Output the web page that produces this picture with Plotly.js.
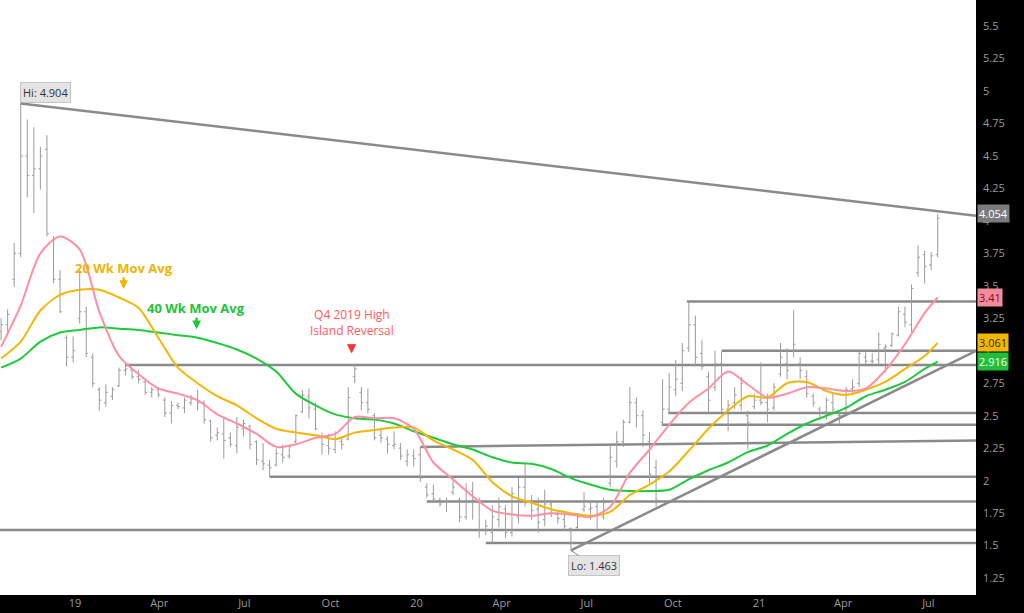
<!DOCTYPE html>
<html>
<head>
<meta charset="utf-8">
<script src="https://cdn.plot.ly/plotly-3.0.1.min.js"></script>
<style>
html,body{margin:0;padding:0;background:#000;}
#chart{width:1024px;height:613px;}
</style>
</head>
<body>
<div id="chart"></div>
<script>
// Weekly bars, first week starting 2018-10-14
const firstWeekUTC = Date.UTC(2018, 9, 14);

const openP = [
3.15,3.20,3.55,3.75,4.50,4.35,4.40,4.55,3.85,3.55,
3.10,2.95,3.25,3.30,2.95,2.70,2.60,2.65,2.73,2.85,
2.85,2.80,2.76,2.68,2.70,2.62,2.52,2.58,2.56,2.60,
2.62,2.60,2.46,2.35,2.36,2.33,2.27,2.40,2.42,2.30,
2.15,2.12,2.12,2.20,2.19,2.30,2.53,2.65,2.55,2.33,
2.27,2.24,2.30,2.32,2.80,2.68,2.60,2.50,2.35,2.32,
2.27,2.25,2.15,2.19,2.20,1.95,1.90,1.85,1.84,1.91,
1.85,1.72,1.92,1.83,1.62,1.60,1.70,1.78,1.60,1.72,
1.95,1.84,1.78,1.70,1.82,1.74,1.70,1.63,1.64,1.78,
1.78,1.80,1.72,1.98,2.15,2.30,2.45,2.60,2.50,2.30,
2.10,2.45,2.55,2.70,2.75,3.02,3.20,2.98,2.80,2.72,
2.90,2.55,2.60,2.58,2.50,2.57,2.62,2.60,2.56,2.82,
2.90,3.00,2.90,2.80,2.65,2.55,2.53,2.60,2.50,2.56,
2.71,2.75,2.95,2.92,2.93,3.02,3.04,3.12,3.28,3.20,
3.60,3.74,3.66,3.74];
const highP = [
3.25,3.32,3.83,4.904,4.78,4.72,4.57,4.66,3.88,3.62,
3.12,3.11,3.62,3.34,2.98,2.72,2.74,2.72,2.87,2.91,
2.87,2.85,2.78,2.72,2.72,2.64,2.61,2.60,2.64,2.66,
2.70,2.62,2.47,2.41,2.49,2.37,2.49,2.47,2.43,2.31,
2.29,2.16,2.25,2.28,2.27,2.51,2.70,2.71,2.60,2.37,
2.36,2.38,2.34,2.72,2.90,2.72,2.71,2.52,2.41,2.34,
2.38,2.29,2.24,2.24,2.26,1.98,1.97,1.87,1.87,2.02,
1.87,1.98,1.99,1.87,1.70,1.81,1.87,1.81,1.95,2.02,
2.14,1.89,1.87,1.93,1.85,1.77,1.75,1.64,1.75,1.91,
1.83,1.83,1.87,2.28,2.38,2.47,2.72,2.64,2.54,2.37,
2.16,2.78,2.83,2.93,3.06,3.37,3.27,3.08,2.84,3.00,
2.99,2.62,2.72,2.80,2.54,2.67,2.91,2.67,2.75,3.06,
3.02,3.31,2.95,2.85,2.67,2.57,2.64,2.67,2.54,2.72,
2.78,3.01,2.99,2.98,3.14,3.05,3.14,3.34,3.34,3.51,
3.81,3.77,3.76,4.054];
const lowP = [
3.08,3.14,3.49,3.72,4.18,4.06,4.24,3.88,3.52,3.29,
2.88,2.91,3.21,2.95,2.72,2.54,2.57,2.62,2.72,2.81,
2.78,2.75,2.66,2.64,2.64,2.49,2.44,2.55,2.52,2.58,
2.54,2.44,2.30,2.31,2.17,2.26,2.21,2.34,2.24,2.12,
2.08,2.03,2.11,2.14,2.17,2.29,2.52,2.48,2.39,2.20,
2.20,2.21,2.24,2.31,2.75,2.54,2.52,2.31,2.29,2.21,
2.24,2.16,2.11,2.11,1.99,1.87,1.83,1.80,1.76,1.89,
1.68,1.70,1.70,1.56,1.58,1.52,1.64,1.56,1.57,1.67,
1.80,1.70,1.60,1.65,1.72,1.67,1.62,1.463,1.62,1.76,
1.70,1.61,1.70,1.95,2.10,2.26,2.44,2.41,2.26,1.98,
1.80,2.42,2.52,2.65,2.69,2.99,2.88,2.85,2.52,2.69,
2.52,2.38,2.55,2.54,2.24,2.55,2.58,2.45,2.54,2.80,
2.78,2.95,2.78,2.64,2.57,2.47,2.47,2.52,2.44,2.52,
2.67,2.72,2.88,2.88,2.88,2.83,3.03,3.11,3.18,3.14,
3.57,3.52,3.62,3.72];
const closeP = [
3.20,3.28,3.75,4.50,4.35,4.40,4.50,3.90,3.55,3.30,
2.95,3.00,3.30,2.98,2.75,2.62,2.68,2.70,2.85,2.86,
2.80,2.78,2.68,2.70,2.66,2.52,2.58,2.57,2.62,2.63,
2.60,2.47,2.33,2.37,2.31,2.28,2.41,2.44,2.28,2.16,
2.13,2.10,2.21,2.18,2.26,2.50,2.66,2.56,2.40,2.28,
2.25,2.32,2.28,2.64,2.86,2.60,2.55,2.33,2.33,2.28,
2.28,2.19,2.20,2.17,2.02,1.89,1.86,1.82,1.84,1.95,
1.72,1.92,1.85,1.62,1.65,1.72,1.80,1.60,1.90,1.95,
1.83,1.77,1.68,1.82,1.75,1.71,1.65,1.52,1.72,1.80,
1.79,1.73,1.83,2.18,2.30,2.45,2.60,2.50,2.35,2.05,
1.85,2.55,2.72,2.78,3.00,3.20,2.95,2.88,2.62,2.90,
2.55,2.58,2.66,2.75,2.45,2.62,2.60,2.55,2.72,2.95,
2.85,3.05,2.85,2.67,2.60,2.52,2.62,2.55,2.50,2.70,
2.72,2.98,2.92,2.92,3.05,3.03,3.13,3.30,3.22,3.48,
3.72,3.65,3.73,4.02];

// Moving averages read every 3 weeks (plus last week)
const ma10 = [3.03,3.35,3.75,3.88,3.78,3.30,2.96,2.82,2.71,2.67,2.62,2.51,2.44,2.36,2.26,2.28,2.33,2.36,2.49,2.48,2.48,2.40,2.14,2.01,1.88,1.77,1.74,1.73,1.75,1.74,1.72,1.80,2.06,2.24,2.43,2.60,2.71,2.84,2.74,2.64,2.67,2.72,2.71,2.69,2.71,2.85,3.05,3.29,3.41];
const ma20 = [2.94,3.07,3.31,3.43,3.47,3.47,3.41,3.33,3.10,2.87,2.75,2.65,2.58,2.48,2.40,2.37,2.35,2.32,2.37,2.39,2.41,2.41,2.31,2.24,2.16,1.99,1.88,1.83,1.78,1.75,1.73,1.76,1.89,1.97,2.07,2.23,2.40,2.54,2.65,2.64,2.75,2.76,2.69,2.66,2.70,2.76,2.86,2.96,3.061];
const ma40 = [2.87,2.94,3.07,3.14,3.16,3.18,3.17,3.16,3.14,3.12,3.10,3.06,3.01,2.94,2.84,2.67,2.58,2.51,2.48,2.47,2.44,2.38,2.33,2.28,2.24,2.18,2.14,2.13,2.09,2.02,1.97,1.93,1.92,1.92,1.93,2.01,2.08,2.14,2.22,2.27,2.36,2.44,2.50,2.56,2.65,2.70,2.76,2.86,2.916];

// Horizontal support / resistance levels
const levelStart = ['2019-02-24','2020-10-16','2020-11-22','2020-09-26','2020-09-19','2019-07-28','2020-01-12','2018-10-12','2020-03-15'];
const levelValue = [2.89,3.38,3.00,2.52,2.43,2.03,1.84,1.62,1.52];
// Sloped lines
const trendX0 = ['2018-11-04','2020-06-14','2020-01-05'];
const trendY0 = [4.904, 1.463, 2.26];
const trendY1 = [4.04, 3.00, 2.31];
const rangeStart = '2018-10-12 20:00';
const rangeEnd = '2021-08-20 22:00';

const yTickVals = [1.25,1.5,1.75,2,2.25,2.5,2.75,3,3.25,3.5,3.75,4,4.25,4.5,4.75,5,5.25,5.5];
const yTickText = ['1.25','1.5','1.75','2','2.25','2.5','2.75','3','3.25','3.5','3.75','4','4.25','4.5','4.75','5','5.25','5.5'];
const xTickVals = ['2019-01-01','2019-04-01','2019-07-01','2019-10-01','2020-01-01','2020-04-01','2020-07-01','2020-10-01','2021-01-01','2021-04-01','2021-07-01'];
const xTickText = ['19','Apr','Jul','Oct','20','Apr','Jul','Oct','21','Apr','Jul'];

const hiValue = 4.904, hiDate = '2018-11-04';
const loValue = 1.463, loDate = '2020-06-14';

const dates = highP.map((_, i) => new Date(firstWeekUTC + i * 7 * 864e5).toISOString().slice(0, 10));
const maDates = ma10.map((_, j) => j < ma10.length - 1 ? dates[3 * j] : dates[dates.length - 1]);

const traces = [
  {type:'ohlc', x:dates, open:openP, high:highP, low:lowP, close:closeP,
   increasing:{line:{color:'#9b9b9b', width:1}}, decreasing:{line:{color:'#9b9b9b', width:1}},
   tickwidth:0.3, hoverinfo:'skip'},
  {type:'scatter', mode:'lines', x:maDates, y:ma40, line:{color:'#1fc93c', width:2, shape:'spline', smoothing:0.8}, hoverinfo:'skip'},
  {type:'scatter', mode:'lines', x:maDates, y:ma20, line:{color:'#f2b705', width:2, shape:'spline', smoothing:0.8}, hoverinfo:'skip'},
  {type:'scatter', mode:'lines', x:maDates, y:ma10, line:{color:'#ff8fa5', width:2, shape:'spline', smoothing:0.8}, hoverinfo:'skip'}
];

const lineStyle = {color:'#8a8a8a', width:2.5};
const shapes = [];
levelValue.forEach((v, i) => shapes.push({type:'line', xref:'x', yref:'y', x0:levelStart[i], x1:rangeEnd, y0:v, y1:v, line:lineStyle, layer:'below'}));
trendX0.forEach((x0, i) => shapes.push({type:'line', xref:'x', yref:'y', x0:x0, x1:rangeEnd, y0:trendY0[i], y1:trendY1[i], line:lineStyle, layer:'below'}));

const F = '"Open Sans", "Noto Sans", sans-serif';
const valueTags = [
  {v:highP[highP.length-1], bg:'#7b7b7b', fg:'#ffffff'},
  {v:ma10[ma10.length-1], bg:'#f58a9c', fg:'#7a1020'},
  {v:ma20[ma20.length-1], bg:'#f2b705', fg:'#3a2a00'},
  {v:ma40[ma40.length-1], bg:'#1fbf3a', fg:'#ffffff'}
];
const annotations = valueTags.map(t => ({
  xref:'paper', yref:'y', x:1, y:t.v, xanchor:'left', yanchor:'middle', xshift:1,
  text:String(t.v), showarrow:false, bgcolor:t.bg, borderpad:1,
  font:{family:F, size:11, color:t.fg}
}));
annotations.push(
  {x:hiDate, y:hiValue, xref:'x', yref:'y', text:'Hi: 4.904', showarrow:true, arrowhead:0, arrowwidth:1, arrowcolor:'#888',
   ax:25, ay:-11, bgcolor:'#e4e4e4', bordercolor:'#c4c4c4', borderwidth:1, borderpad:2, font:{family:F, size:11, color:'#333'}},
  {x:loDate, y:loValue, xref:'x', yref:'y', text:'Lo: 1.463', showarrow:true, arrowhead:0, arrowwidth:1, arrowcolor:'#888',
   ax:23, ay:15, bgcolor:'#e4e4e4', bordercolor:'#c4c4c4', borderwidth:1, borderpad:2, font:{family:F, size:11, color:'#333'}},
  {x:'2019-02-22', y:3.64, xref:'x', yref:'y', text:'<b>20 Wk Mov Avg</b>', showarrow:false, font:{family:F, size:13, color:'#f0b400'}},
  {x:'2019-02-22', y:3.475, xref:'x', yref:'y', text:'', showarrow:true, arrowhead:2, arrowsize:0.7, arrowwidth:2.5,
   arrowcolor:'#f0b400', ax:0, ay:-13},
  {x:'2019-05-10', y:3.33, xref:'x', yref:'y', text:'<b>40 Wk Mov Avg</b>', showarrow:false, font:{family:F, size:13, color:'#22c23a'}},
  {x:'2019-05-11', y:3.165, xref:'x', yref:'y', text:'', showarrow:true, arrowhead:2, arrowsize:0.7, arrowwidth:2.5,
   arrowcolor:'#22c23a', ax:0, ay:-13},
  {x:'2019-10-24', y:3.215, xref:'x', yref:'y', text:'Q4 2019 High<br>Island Reversal', showarrow:false, font:{family:F, size:12, color:'#ff5c5c'}},
  {x:'2019-10-24', y:3.025, xref:'x', yref:'y', text:'▼', showarrow:false, font:{family:'DejaVu Sans', size:12, color:'#ff3030'}}
);

const layout = {
  width:1024, height:613,
  margin:{l:0, r:48, t:0, b:18, pad:0},
  paper_bgcolor:'#000000', plot_bgcolor:'#ffffff',
  showlegend:false, dragmode:false,
  font:{family:F, color:'#9a9a9a', size:11},
  xaxis:{type:'date', range:[rangeStart, rangeEnd], tickmode:'array', tickvals:xTickVals, ticktext:xTickText,
         showgrid:false, zeroline:false, showline:false, ticks:'', rangeslider:{visible:false},
         tickfont:{family:F, size:11, color:'#9a9a9a'}},
  yaxis:{side:'right', range:[1.12, 5.70], tickmode:'array', tickvals:yTickVals, ticktext:yTickText,
         showgrid:false, zeroline:false, showline:false, ticks:'', ticklabelstandoff:6,
         tickfont:{family:F, size:11, color:'#9a9a9a'}},
  shapes:shapes,
  annotations:annotations
};

Plotly.newPlot('chart', traces, layout, {staticPlot:true, displayModeBar:false});
</script>
</body>
</html>
